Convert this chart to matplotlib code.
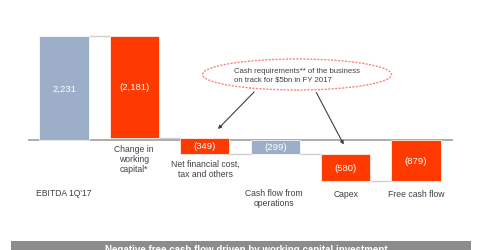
import matplotlib
matplotlib.use("Agg")
import matplotlib.pyplot as plt
from matplotlib.patches import Ellipse, Rectangle

plt.rcParams['font.family'] = ['Liberation Sans', 'DejaVu Sans']

# Data
categories = ["EBITDA 1Q'17", "Change in\nworking\ncapital*", "Net financial cost,\ntax and others",
              "Cash flow from\noperations", "Capex", "Free cash flow"]
values = [2231, -2181, -349, -299, -580, -879]
is_total = [True, False, False, True, False, True]
value_labels = ["2,231", "(2,181)", "(349)", "(299)", "(580)", "(879)"]

blue = "#9dafc8"
red = "#ff3a00"

W, H = 480, 251
fig = plt.figure(figsize=(W / 100, H / 100), dpi=100)
ax = fig.add_axes([0, 0, 1, 1])
ax.set_xlim(-0.909, 5.909)
ax.set_ylim(-2361, 3026)
ax.axis("off")

def fx(px):
    return px / W

def fy(py):
    return 1 - py / H

# waterfall bottoms/tops
running = 0
bars = []
for i, v in enumerate(values):
    if is_total[i]:
        lo, hi = min(0, v), max(0, v)
        running = v
    else:
        start = running
        running = running + v
        lo, hi = min(start, running), max(start, running)
    # blue for positive / intermediate totals, red for outflows and final result
    col = blue if (is_total[i] and i < len(values) - 1) else red
    bars.append((lo, hi, running))
    ax.bar(i, hi - lo, bottom=lo, width=0.7, color=col, edgecolor="white", linewidth=0.5, zorder=3)
    ax.text(i, (lo + hi) / 2, value_labels[i], ha="center", va="center", color="white",
            fontsize=6.8, zorder=4)

# connectors
for i in range(len(values) - 1):
    lvl = bars[i][2]
    ax.plot([i + 0.35, i + 0.65], [lvl, lvl], color="#d0d0d0", lw=1, zorder=2)

# zero line
ax.plot([-0.497, 5.51], [0, 0], color="#a6a6a6", lw=1.3, zorder=2)

# category labels
label_pos = [(64, 189), (134, 145), (205, 160), (274, 189), (346, 190), (416, 190)]
for (px, py), txt in zip(label_pos, categories):
    ax.text(fx(px), fy(py), txt, transform=ax.transAxes, ha="center", va="top",
            fontsize=6.2, color="#404040", linespacing=1.15)

# ellipse with note
ell = Ellipse((fx(297), fy(75.5)), 189 / W, 31 / H, transform=ax.transAxes, fill=False,
              edgecolor="#ff8080", linestyle=(0, (1.5, 1)), lw=1)
ax.add_patch(ell)
ax.text(fx(234), fy(76), "Cash requirements** of the business\non track for $5bn in FY 2017",
        transform=ax.transAxes, ha="left", va="center", fontsize=5.6, color="#404040", linespacing=1.3)

ax.annotate("", xy=(fx(216), fy(132)), xytext=(fx(256), fy(91)), xycoords="axes fraction",
            textcoords="axes fraction",
            arrowprops=dict(arrowstyle="-|>", color="#404040", lw=0.8, mutation_scale=5))
ax.annotate("", xy=(fx(345), fy(148)), xytext=(fx(315), fy(91)), xycoords="axes fraction",
            textcoords="axes fraction",
            arrowprops=dict(arrowstyle="-|>", color="#404040", lw=0.8, mutation_scale=5))

# bottom banner
ax.add_patch(Rectangle((fx(11), 0), 460 / W, 9 / H, transform=ax.transAxes,
                       facecolor="#8c8c8c", edgecolor="none", clip_on=False))
ax.text(fx(246), fy(245), "Negative free cash flow driven by working capital investment",
        transform=ax.transAxes, ha="center", va="top", fontsize=7, fontweight="bold", color="white")

fig.savefig("out.png", dpi=100)
